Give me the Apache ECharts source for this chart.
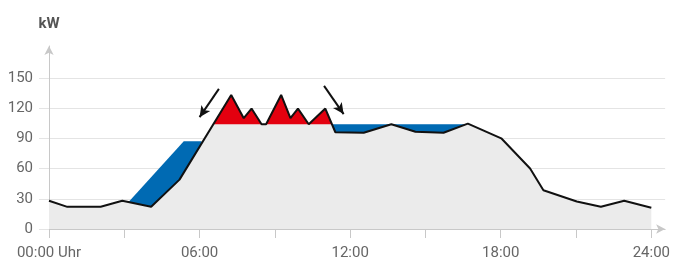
<!DOCTYPE html>
<html>
<head>
<meta charset="utf-8">
<script src="https://cdn.jsdelivr.net/npm/echarts@6/dist/echarts.min.js"></script>
<style>
  html, body { margin: 0; padding: 0; background: #fff; }
  #main { width: 673px; height: 261px; }
</style>
</head>
<body>
<div id="main"></div>
<script>
// Lastgang (Stunde, kW)
const hours = [0, 0.73, 2.06, 2.92, 4.07, 5.2, 7.26, 7.76, 8.07, 8.47, 8.65, 9.25, 9.62, 9.92, 10.35, 11.01, 11.41, 12.54, 13.64, 14.6, 15.72, 16.69, 18.02, 19.17, 19.7, 21.03, 21.99, 22.92, 24];
const load = [28, 22, 22, 28, 22, 49, 133, 110, 119.5, 104, 104, 133, 110, 119.5, 104, 119.5, 96, 95.5, 104, 96.5, 95.5, 104.6, 90, 60, 38.5, 27.3, 22, 28, 21];

// verschobene Last (blau, vormittags)
const shiftHours = [3.18, 5.37, 6.08];
const shiftTop = [27, 87, 87];

// Kappungsgrenze und Bereiche
const cap = 104;
const peakStart = 6.55, peakEnd = 11.27, valleyEnd = 16.65;

const xTicks = [0, 3, 6, 9, 12, 15, 18, 21, 24];
const xLabels = [0, 6, 12, 18, 24];
const yTicks = [0, 30, 60, 90, 120, 150];

// Pfeile (Start -> Spitze)
const arrows = [
  [[6.77, 139], [6.0, 111]],
  [[10.96, 142], [11.74, 114]]
];

let chart = echarts.init(document.getElementById('main'), null, { renderer: 'canvas' });

let loadData = hours.map((h, i) => [h, load[i]]);

function between(a, b) {
  return loadData.filter(p => p[0] > a && p[0] < b);
}

let peakData = [[peakStart, cap], ...between(peakStart, peakEnd), [peakEnd, cap]];
let valleyData = [[peakEnd, cap], ...between(peakEnd, valleyEnd), [valleyEnd, cap]];
let shiftData = shiftHours.map((h, i) => [h, shiftTop[i]]);

const txt = '#666';
const font = 'Roboto, "Liberation Sans", sans-serif';

let option = {
  animation: false,
  grid: { left: 49, right: 5, top: 46, bottom: 31 },
  xAxis: {
    type: 'value',
    min: 0,
    max: 24.55,
    axisLine: {
      show: true,
      lineStyle: { color: '#c8c8c8', width: 1 },
      symbol: ['none', 'arrow'],
      symbolSize: [7, 9]
    },
    axisTick: {
      show: true,
      length: 9,
      customValues: xTicks,
      lineStyle: { color: '#c8c8c8' }
    },
    axisLabel: {
      customValues: xLabels,
      margin: 17,
      color: txt,
      fontSize: 15,
      fontFamily: font,
      formatter: function (v) {
        let s = (v < 10 ? '0' : '') + v + ':00';
        return v === 0 ? s + ' Uhr' : s;
      }
    },
    splitLine: { show: false }
  },
  yAxis: {
    type: 'value',
    min: 0,
    max: 181.6,
    name: 'kW',
    nameLocation: 'end',
    nameGap: 14,
    nameTextStyle: { color: '#555', fontWeight: 'bold', fontSize: 15, fontFamily: font },
    axisLine: {
      show: true,
      lineStyle: { color: '#c8c8c8', width: 1 },
      symbol: ['none', 'arrow'],
      symbolSize: [7, 9]
    },
    axisTick: {
      show: true,
      length: 10,
      customValues: yTicks,
      lineStyle: { color: '#e4e4e4' }
    },
    axisLabel: {
      customValues: yTicks,
      margin: 16,
      color: txt,
      fontSize: 15,
      fontFamily: font
    },
    splitLine: { show: true, lineStyle: { color: '#e4e4e4', width: 1 } }
  },
  series: [
    {
      // blaue Fläche links (vorgezogene Last)
      type: 'line',
      data: shiftData,
      symbol: 'none',
      lineStyle: { width: 0 },
      areaStyle: { color: '#006ab3', opacity: 1, origin: 'start' }
    },
    {
      // graue Fläche unter dem Lastgang
      type: 'line',
      data: loadData,
      symbol: 'none',
      lineStyle: { width: 0 },
      areaStyle: { color: '#ebebeb', opacity: 1, origin: 'start' }
    },
    {
      // rote Spitzen über der Grenze
      type: 'line',
      data: peakData,
      symbol: 'none',
      lineStyle: { width: 0 },
      areaStyle: { color: '#e3000f', opacity: 1, origin: cap }
    },
    {
      // blaue Fläche rechts (nachgeholte Last)
      type: 'line',
      data: valleyData,
      symbol: 'none',
      lineStyle: { width: 0 },
      areaStyle: { color: '#006ab3', opacity: 1, origin: cap }
    },
    {
      // Lastgang
      type: 'line',
      data: loadData,
      symbol: 'none',
      lineStyle: { color: '#111', width: 2 },
      markLine: {
        silent: true,
        symbol: ['none', 'arrow'],
        symbolSize: [8, 11],
        label: { show: false },
        lineStyle: { color: '#111', width: 2, type: 'solid' },
        data: arrows.map(a => [{ coord: a[0] }, { coord: a[1] }])
      }
    }
  ]
};

chart.setOption(option);
</script>
</body>
</html>
